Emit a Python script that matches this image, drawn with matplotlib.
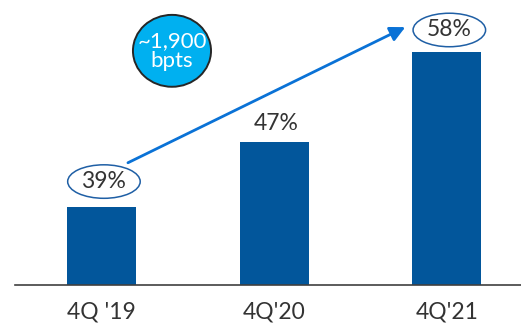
import matplotlib.pyplot as plt
from matplotlib.patches import Ellipse

quarters = ["4Q '19", "4Q'20", "4Q'21"]
values = [39, 47, 58]
labels = ["39%", "47%", "58%"]
circled = [True, False, True]
change_text = "~1,900\nbpts"

plt.rcParams['font.family'] = ['Lato', 'DejaVu Sans']

fig = plt.figure(figsize=(5.21, 3.27), dpi=100)
ax = fig.add_axes([15 / 521, 42 / 327, 506 / 521, 285 / 327])

x = list(range(len(values)))
ax.bar(x, values, width=0.4, color='#02569B')
ax.set_xlim(-0.5, 2.43)
ax.set_ylim(29.44, 64.32)

for s in ['top', 'left', 'right']:
    ax.spines[s].set_visible(False)
ax.spines['bottom'].set_color('#404040')
ax.spines['bottom'].set_linewidth(1.2)
ax.set_yticks([])
ax.set_xticks(x)
ax.set_xticklabels(quarters, fontsize=16.5, color='#333333')
ax.tick_params(axis='x', length=0, pad=12)

# value labels, some wrapped in an ellipse
for xi, v, lab, circ in zip(x, values, labels, circled):
    yc = v + (3.1 if xi == 0 else 2.65) if circ else v + 2.2
    ax.text(xi + 0.015, yc, lab, ha='center', va='center', fontsize=16.5,
            color='#333333')
    if circ:
        ax.add_patch(Ellipse((xi + 0.015, yc), 0.42, 4.1, fill=False,
                             edgecolor='#1F5FA5', linewidth=1.1))

# growth arrow
ax.annotate('', xy=(1.76, 61.0), xytext=(0.154, 44.4),
            arrowprops=dict(arrowstyle='-|>,head_length=0.9,head_width=0.45',
                            color='#0A72D6', lw=2.0, shrinkA=0, shrinkB=0))

# bubble
ax.add_patch(Ellipse((0.409, 58.1), 0.452, 8.8, facecolor='#00B0F0',
                     edgecolor='#262626', linewidth=1.4, zorder=3))
ax.text(0.409, 58.1, change_text, ha='center', va='center', fontsize=16,
        color='white', linespacing=1.0, zorder=4)

fig.savefig('out.png', dpi=100)
